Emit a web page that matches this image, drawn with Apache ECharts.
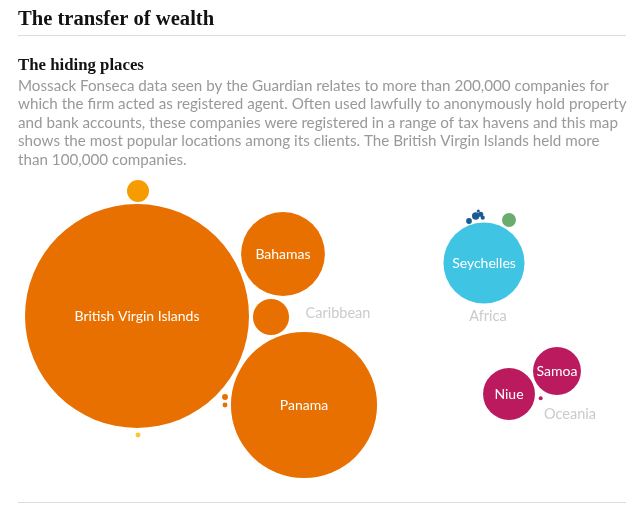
<!DOCTYPE html>
<html>
<head>
<meta charset="utf-8">
<script src="https://cdn.jsdelivr.net/npm/echarts@6/dist/echarts.min.js"></script>
<style>
  html, body { margin: 0; padding: 0; background: #fff; }
  #chart { width: 640px; height: 511px; }
</style>
</head>
<body>
<div id="chart"></div>
<script>
// bubbles: name, companies registered, layout position, region
var names = ['British Virgin Islands', 'Panama', 'Bahamas', 'Anguilla', 'Nevada', 'Carib. small 1', 'Carib. small 2', 'Carib. tiny',
             'Seychelles', 'Africa green', 'Asia 1', 'Asia 2', 'Asia 3', 'Asia 4', 'Asia 5',
             'Niue', 'Samoa', 'Oceania tiny'];
var companies = [113648, 48360, 15915, 2950, 1100, 80, 55, 55,
                 14900, 440, 75, 125, 60, 40, 22,
                 6100, 5200, 35];
var posX = [137, 304, 283, 271, 138, 225, 225, 138,
            484, 509, 469, 475.7, 480.7, 482.7, 478.3,
            509, 557, 540.7];
var posY = [316, 405, 254, 317, 191, 397, 405, 435,
            263, 220, 221, 216, 214.3, 217.7, 211,
            394, 371, 398.3];
var region = ['car', 'car', 'car', 'car', 'nam', 'car', 'car', 'yel',
              'afr', 'grn', 'asia', 'asia', 'asia', 'asia', 'asia',
              'oce', 'oce', 'oce'];
var labelled = ['British Virgin Islands', 'Panama', 'Bahamas', 'Seychelles', 'Niue', 'Samoa'];

var regionNames = ['Caribbean', 'Africa', 'Oceania'];
var regionX = [338, 488, 570];
var regionY = [313, 316, 414];

var colours = { car: '#e87000', nam: '#f79c00', yel: '#ffc530', afr: '#40c4e4', grn: '#69ac6e', asia: '#1b5a96', oce: '#bb1a5f' };
var maxR = 112;

var chart = echarts.init(document.getElementById('chart'));

var bubbles = names.map(function (n, i) {
    return {
        name: n,
        value: [posX[i], posY[i], companies[i]],
        itemStyle: { color: colours[region[i]] },
        label: { show: labelled.indexOf(n) >= 0 }
    };
});

var regionLabels = regionNames.map(function (n, i) {
    return { name: n, value: [regionX[i], regionY[i]] };
});

var bodyText = [
    'Mossack Fonseca data seen by the Guardian relates to more than 200,000 companies for',
    'which the firm acted as registered agent. Often used lawfully to anonymously hold property',
    'and bank accounts, these companies were registered in a range of tax havens and this map',
    'shows the most popular locations among its clients. The British Virgin Islands held more',
    'than 100,000 companies.'
].join('\n');

chart.setOption({
    animation: false,
    title: [
        {
            text: 'The transfer of wealth',
            left: 18, top: 9, padding: 0,
            textStyle: { fontFamily: 'Liberation Serif', fontWeight: 'bold', fontSize: 20.6, color: '#121212' }
        },
        {
            text: 'The hiding places',
            left: 18, top: 57, padding: 0,
            textStyle: { fontFamily: 'Liberation Serif', fontWeight: 'bold', fontSize: 16.8, color: '#121212' }
        },
        {
            text: bodyText,
            left: 18, top: 77, padding: 0,
            textStyle: { fontFamily: 'Lato', fontWeight: 'normal', fontSize: 15.2, lineHeight: 18.4, color: '#999' }
        }
    ],
    graphic: [
        { type: 'line', shape: { x1: 18, y1: 35.5, x2: 626, y2: 35.5 }, style: { stroke: '#dcdcdc', lineWidth: 1 } },
        { type: 'line', shape: { x1: 18, y1: 502.5, x2: 626, y2: 502.5 }, style: { stroke: '#dcdcdc', lineWidth: 1 } }
    ],
    grid: { left: 0, right: 0, top: 0, bottom: 0 },
    xAxis: { type: 'value', min: 0, max: 640, show: false },
    yAxis: { type: 'value', min: 0, max: 511, inverse: true, show: false },
    series: [
        {
            type: 'scatter',
            data: bubbles,
            symbolSize: function (v) { return 2 * maxR * Math.sqrt(v[2] / companies[0]); },
            itemStyle: { opacity: 1 },
            label: {
                position: 'inside',
                formatter: '{b}',
                color: '#fff',
                fontFamily: 'Lato',
                fontSize: 14
            },
            emphasis: { disabled: true }
        },
        {
            type: 'scatter',
            data: regionLabels,
            symbolSize: 0,
            label: {
                show: true,
                position: 'inside',
                formatter: '{b}',
                color: '#bdbdbd',
                fontFamily: 'Lato',
                fontSize: 14.5
            },
            emphasis: { disabled: true }
        }
    ]
});
</script>
</body>
</html>
